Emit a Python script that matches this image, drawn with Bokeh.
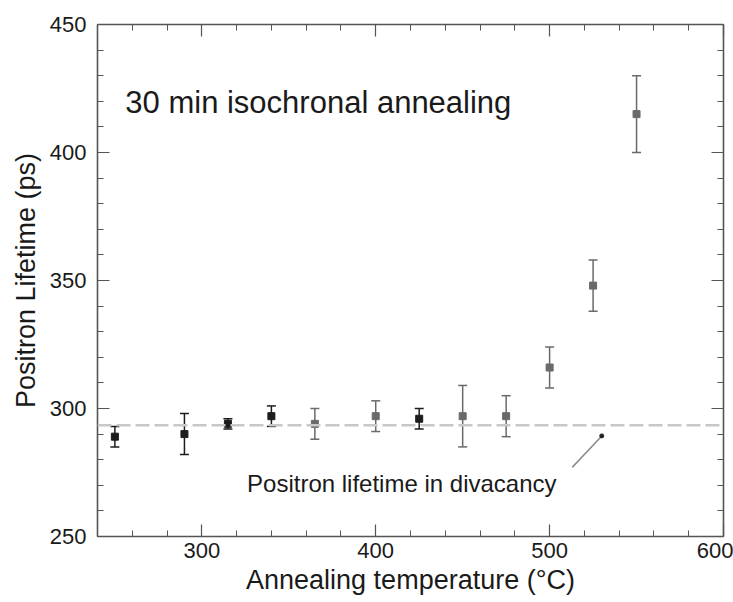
from bokeh.plotting import figure
from bokeh.models import (ColumnDataSource, Whisker, TeeHead, Span, Label, LinearAxis,
                          SingleIntervalTicker, Range1d)
from bokeh.embed import file_html
from bokeh.resources import INLINE

# ---- data ----
temperature = [250, 290, 315, 340, 365, 400, 425, 450, 475, 500, 525, 550]
lifetime    = [289, 290, 294, 297, 294, 297, 296, 297, 297, 316, 348, 415]
error       = [4,   8,   2,   4,   6,   6,   4,   12,  8,   8,   10,  15]
dark_point  = [True, True, True, True, False, False, True, False, False, False, False, False]
divacancy_lifetime = 293.5
arrow_x = [513, 530]
arrow_y = [277, 289.3]
title_text = "30 min isochronal annealing"
note_text = "Positron lifetime in divacancy"

FONT = "Liberation Sans"
DARK = "#1c1c1c"
GRAY = "#6a6a6a"
AXIS = "#555555"

p = figure(width=733, height=602, output_backend="svg", toolbar_location=None,
           x_range=Range1d(240, 600), y_range=Range1d(250, 450),
           min_border_left=97, min_border_right=10, min_border_top=24, min_border_bottom=66,
           background_fill_color="white", border_fill_color="white")
p.outline_line_color = None
p.xgrid.visible = False
p.ygrid.visible = False

xt = SingleIntervalTicker(interval=100, num_minor_ticks=5)
yt = SingleIntervalTicker(interval=50, num_minor_ticks=5)

def style(ax, show_labels):
    ax.axis_line_color = AXIS
    ax.axis_line_width = 1.6
    ax.major_tick_line_color = AXIS
    ax.minor_tick_line_color = AXIS
    ax.major_tick_line_width = 1.2
    ax.minor_tick_line_width = 1.0
    ax.major_tick_in = 12
    ax.major_tick_out = 0
    ax.minor_tick_in = 6
    ax.minor_tick_out = 0
    if show_labels:
        ax.major_label_text_font = FONT
        ax.major_label_text_font_size = "22px"
        ax.major_label_text_color = "#1a1a1a"
        ax.axis_label_text_font = FONT
        ax.axis_label_text_font_size = "27px"
        ax.axis_label_text_font_style = "normal"
        ax.axis_label_text_color = "#1a1a1a"
    else:
        ax.major_label_text_font_size = "1px"
        ax.major_label_text_color = None
        ax.major_label_standoff = 0

p.xaxis.ticker = xt
p.yaxis.ticker = yt
style(p.xaxis[0], True)
style(p.yaxis[0], True)
p.xaxis.axis_label = "Annealing temperature (°C)"
p.yaxis.axis_label = "Positron Lifetime (ps)"
p.xaxis.major_label_standoff = 6
p.yaxis.major_label_standoff = 11
p.xaxis.axis_label_standoff = 4
p.yaxis.axis_label_standoff = 6

top = LinearAxis(ticker=SingleIntervalTicker(interval=100, num_minor_ticks=5))
right = LinearAxis(ticker=SingleIntervalTicker(interval=50, num_minor_ticks=5))
style(top, False)
style(right, False)
p.add_layout(top, "above")
p.add_layout(right, "right")

# divacancy reference line
p.add_layout(Span(location=divacancy_lifetime, dimension="width", line_color="#c8c8c8",
                  line_width=2.5, line_dash="14 5"))

# data split by colour
for flag, col in [(True, DARK), (False, GRAY)]:
    xs = [t for t, d in zip(temperature, dark_point) if d == flag]
    ys = [v for v, d in zip(lifetime, dark_point) if d == flag]
    es = [e for e, d in zip(error, dark_point) if d == flag]
    src = ColumnDataSource(dict(x=xs, y=ys,
                                upper=[v + e for v, e in zip(ys, es)],
                                lower=[v - e for v, e in zip(ys, es)]))
    w = Whisker(base="x", upper="upper", lower="lower", source=src,
                line_color=col, line_width=1.5,
                upper_head=TeeHead(size=9, line_color=col, line_width=1.5),
                lower_head=TeeHead(size=9, line_color=col, line_width=1.5))
    p.add_layout(w)
    p.scatter("x", "y", source=src, marker="square", size=7, fill_color=col, line_color=col)

# annotation arrow
p.line(arrow_x, arrow_y, line_color="#8a8a8a", line_width=1.5)
p.scatter([arrow_x[1]], [arrow_y[1]], marker="circle", size=4, fill_color="#222222", line_color="#222222")

p.add_layout(Label(x=256, y=419.6, text=title_text, text_font=FONT, text_font_size="31px",
                   text_color="#1a1a1a", text_baseline="alphabetic"))
p.add_layout(Label(x=326, y=270.7, text=note_text, text_font=FONT, text_font_size="24px",
                   text_color="#1a1a1a", text_baseline="alphabetic"))

open("out.html", "w").write(file_html(p, INLINE))
